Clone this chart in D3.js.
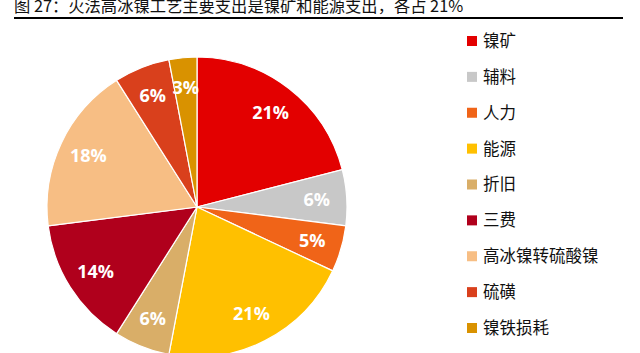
<!DOCTYPE html>
<html>
<head>
<meta charset="utf-8">
<script src="https://cdn.jsdelivr.net/npm/d3@7"></script>
<style>
  body { margin: 0; background: #fff; }
  svg { display: block; }
</style>
</head>
<body>
<div id="chartDiv"></div>
<script>
// data
var titleText = "图 27：火法高冰镍工艺主要支出是镍矿和能源支出，各占 21%";
var categories = ["镍矿", "辅料", "人力", "能源", "折旧", "三费", "高冰镍转硫酸镍", "硫磺", "镍铁损耗"];
var shares = [21, 6, 5, 21, 6, 14, 18, 6, 3];
var colors = ["#E30000", "#C8C8C8", "#F06418", "#FFC000", "#D9AE68", "#B0001C", "#F7BE84", "#D9401C", "#D99200"];

var width = 640, height = 353;
var cx = 197, cy = 207, radius = 150;

var svg = d3.select("#chartDiv")
  .append("svg")
    .attr("width", width)
    .attr("height", height)

// title + rule (the title is clipped at the top edge, as in the source)
svg.append("text")
    .attr("x", 14)
    .attr("y", 12)
    .attr("font-family", "'Noto Sans CJK SC', sans-serif")
    .attr("font-size", 16.3)
    .attr("fill", "#111")
    .text(titleText)

svg.append("line")
    .attr("x1", 14).attr("x2", 623)
    .attr("y1", 18).attr("y2", 18)
    .attr("stroke", "#000")
    .attr("stroke-width", 2)

var data = categories.map(function(c, i) { return {name: c, value: shares[i]}; });

var pie = d3.pie().sort(null).value(d => d.value);
var arc = d3.arc().innerRadius(0).outerRadius(radius);
var labelArc = d3.arc().innerRadius(radius * 0.8).outerRadius(radius * 0.8);

var color = d3.scaleOrdinal().domain(categories).range(colors);

const gPie = svg.append("g")
    .attr("transform", "translate(" + cx + "," + cy + ")");

var arcs = pie(data);

gPie.selectAll("path")
  .data(arcs)
  .enter().append("path")
    .attr("d", arc)
    .attr("fill", d => color(d.data.name))
    .attr("stroke", "#fff")
    .attr("stroke-width", 1.2)

gPie.selectAll("text")
  .data(arcs)
  .enter().append("text")
    .attr("transform", d => "translate(" + labelArc.centroid(d) + ")")
    .attr("text-anchor", "middle")
    .attr("dy", "0.36em")
    .attr("font-family", "'Open Sans', sans-serif")
    .attr("font-weight", "bold")
    .attr("font-size", 18)
    .attr("fill", "#fff")
    .text(d => d.data.value + "%")

// legend
var yLegend = d3.scalePoint()
    .domain(categories)
    .range([41, 328]);

var legend = svg.append("g")
  .selectAll("g")
  .data(categories)
  .enter().append("g")
    .attr("transform", d => "translate(467," + yLegend(d) + ")")

legend.append("rect")
    .attr("x", 0).attr("y", -5)
    .attr("width", 10).attr("height", 10)
    .attr("fill", d => color(d))

legend.append("text")
    .attr("x", 16)
    .attr("dy", "0.36em")
    .attr("font-family", "'Noto Sans CJK SC', sans-serif")
    .attr("font-size", 16.5)
    .attr("fill", "#111")
    .text(d => d)
</script>
</body>
</html>
